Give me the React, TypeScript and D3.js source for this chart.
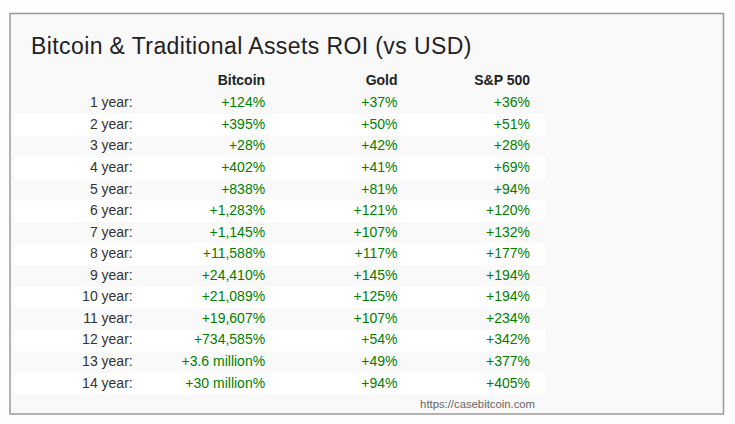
import React from "react";
import * as d3 from "d3";

const title = "Bitcoin & Traditional Assets ROI (vs USD)";
const columns = ["Bitcoin", "Gold", "S&P 500"];
const periods = [
  "1 year:", "2 year:", "3 year:", "4 year:", "5 year:", "6 year:", "7 year:",
  "8 year:", "9 year:", "10 year:", "11 year:", "12 year:", "13 year:", "14 year:",
];
const bitcoin = [124, 395, 28, 402, 838, 1283, 1145, 11588, 24410, 21089, 19607, 734585, 3600000, 30000000];
const gold = [37, 50, 42, 41, 81, 121, 107, 117, 145, 125, 107, 54, 49, 94];
const sp500 = [36, 51, 28, 69, 94, 120, 132, 177, 194, 194, 234, 342, 377, 405];
const source = "https://casebitcoin.com";

const W = 735;
const H = 424;
const FONT = "Arial, 'Liberation Sans', Helvetica, sans-serif";

function fmt(v: number): string {
  if (v >= 1e6) return `+${d3.format("~")(v / 1e6)} million%`;
  return `+${d3.format(",")(v)}%`;
}

export default function App() {
  const series = [bitcoin, gold, sp500];
  const colX = d3.scaleLinear().domain([0, 3]).range([132.7, 530]);
  const rowH = 21.56;
  const y = d3
    .scaleBand<string>()
    .domain(periods)
    .range([92.6, 92.6 + periods.length * rowH])
    .padding(0);
  const stripeX0 = 15;
  const stripeX1 = 545;

  return (
    <svg
      width={W}
      height={H}
      style={{ position: "absolute", left: 0, top: 0, background: "#fdfdfd" }}
      fontFamily={FONT}
    >
      <rect x={0} y={0} width={W} height={H} fill="#fdfdfd" />
      <rect x={10} y={13.5} width={713.5} height={400.5} fill="#f9f9f9" stroke="#9a9a9a" strokeWidth={1.5} />
      <text x={31} y={54} fontSize={23} letterSpacing={0.4} fill="#222">
        {title}
      </text>
      {columns.map((c, j) => (
        <text key={c} x={colX(j + 1)} y={85} fontSize={14} fontWeight="bold" fill="#222" textAnchor="end">
          {c}
        </text>
      ))}
      {periods.map((p, i) => (
        <g key={p}>
          {i % 2 === 1 && (
            <rect x={stripeX0} y={y(p)} width={stripeX1 - stripeX0} height={y.bandwidth()} fill="#ffffff" />
          )}
          <text x={colX(0)} y={(y(p) as number) + 14.7} fontSize={14} fill="#333" textAnchor="end">
            {p}
          </text>
          {series.map((s, j) => (
            <text
              key={j}
              x={colX(j + 1)}
              y={(y(p) as number) + 14.7}
              fontSize={14}
              fill="#008000"
              textAnchor="end"
            >
              {fmt(s[i])}
            </text>
          ))}
        </g>
      ))}
      <text x={535} y={407.5} fontSize={11.3} fill="#666" textAnchor="end">
        {source}
      </text>
    </svg>
  );
}
